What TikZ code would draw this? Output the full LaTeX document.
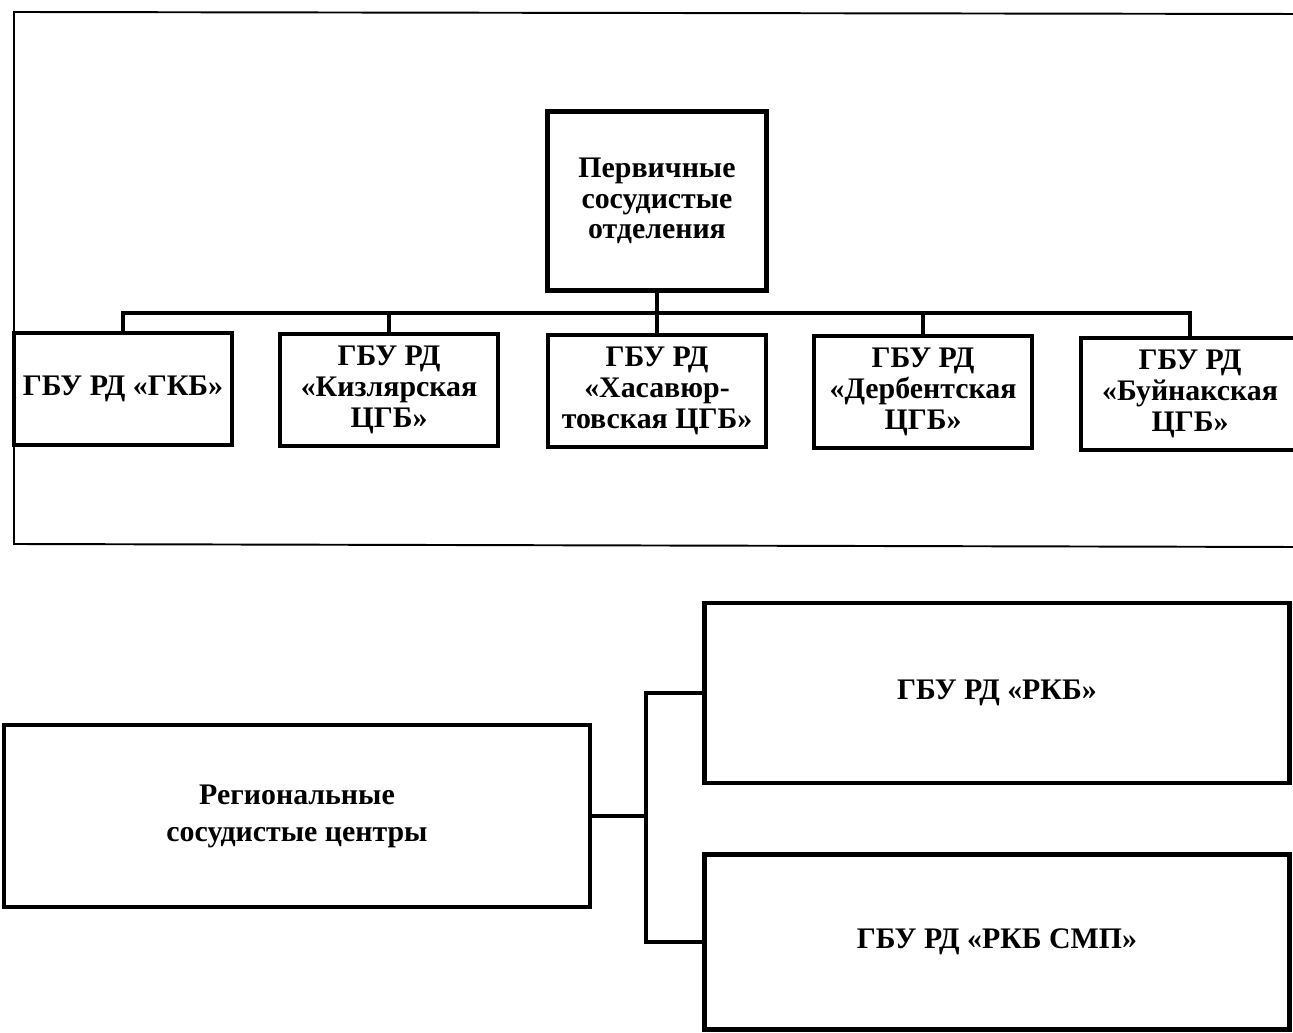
\documentclass[tikz,border=0pt]{standalone}
\usepackage{fontspec}
\setmainfont{Liberation Serif}
\usepackage{tikz}
\usetikzlibrary{positioning}

\begin{document}
\begin{tikzpicture}[
    x=0.02cm, y=-0.02cm,
    box/.style={
        draw,
        line width=2.6pt,
        align=center,
        inner sep=3pt,
        font=\fontsize{17}{17.5}\selectfont\bfseries
    },
    unit/.style={
        box,
        minimum width=4.36cm,
        minimum height=2.24cm
    },
    wide/.style={
        box,
        minimum width=11.7cm,
        minimum height=3.6cm
    },
    link/.style={
        line width=2.2pt
    },
    frame/.style={
        line width=1.1pt
    }
]

\useasboundingbox (0,0) rectangle (1293,1033);

% ==================================================
% Outer frame (open on the right)
% ==================================================

\draw[frame] (1300,14) -- (14,12) -- (14,544) -- (1300,547);


% ==================================================
% Primary vascular departments
% ==================================================

\node[
    box,
    minimum width=4.38cm,
    minimum height=3.58cm
] (pso) at (657,201)
{
    Первичные\\
    сосудистые\\
    отделения
};


\node[unit] (gkb) at (123,389)
{ГБУ РД «ГКБ»};

\node[unit] (kizl) at (389,390)
{
    ГБУ РД\\
    «Кизлярская\\
    ЦГБ»
};

\node[unit] (khas) at (657,391)
{
    ГБУ РД\\
    «Хасавюр-\\
    товская ЦГБ»
};

\node[unit] (derb) at (923,392)
{
    ГБУ РД\\
    «Дербентская\\
    ЦГБ»
};

\node[unit] (buin) at (1190,394)
{
    ГБУ РД\\
    «Буйнакская\\
    ЦГБ»
};


% ==================================================
% Regional vascular centres
% ==================================================

\node[
    wide,
    minimum width=11.72cm,
    minimum height=3.64cm,
    font=\fontsize{17}{21}\selectfont\bfseries
] (rsc) at (297,816)
{
    Региональные\\
    сосудистые центры
};


\node[wide] (rkb) at (997,693)
{ГБУ РД «РКБ»};

\node[
    wide,
    minimum height=3.5cm
] (rkbsmp) at (997,942)
{ГБУ РД «РКБ СМП»};


% ==================================================
% Tree connectors
% ==================================================

\coordinate (bus) at (657,313);
\coordinate (fork) at (646,816);

% Stem and branch
\draw[link] (pso.south) -- (bus);
\draw[link] (gkb.north) |- (bus) -| (buin.north);

% Drops to the departments
\draw[link] (kizl.north) -- (kizl.north |- bus);
\draw[link] (khas.north) -- (khas.north |- bus);
\draw[link] (derb.north) -- (derb.north |- bus);

% Fork to the two regional centres
\draw[link] (rsc.east) -- (fork);
\draw[link] (rkb.west) -| (fork) |- (rkbsmp.west);

\end{tikzpicture}
\end{document}
